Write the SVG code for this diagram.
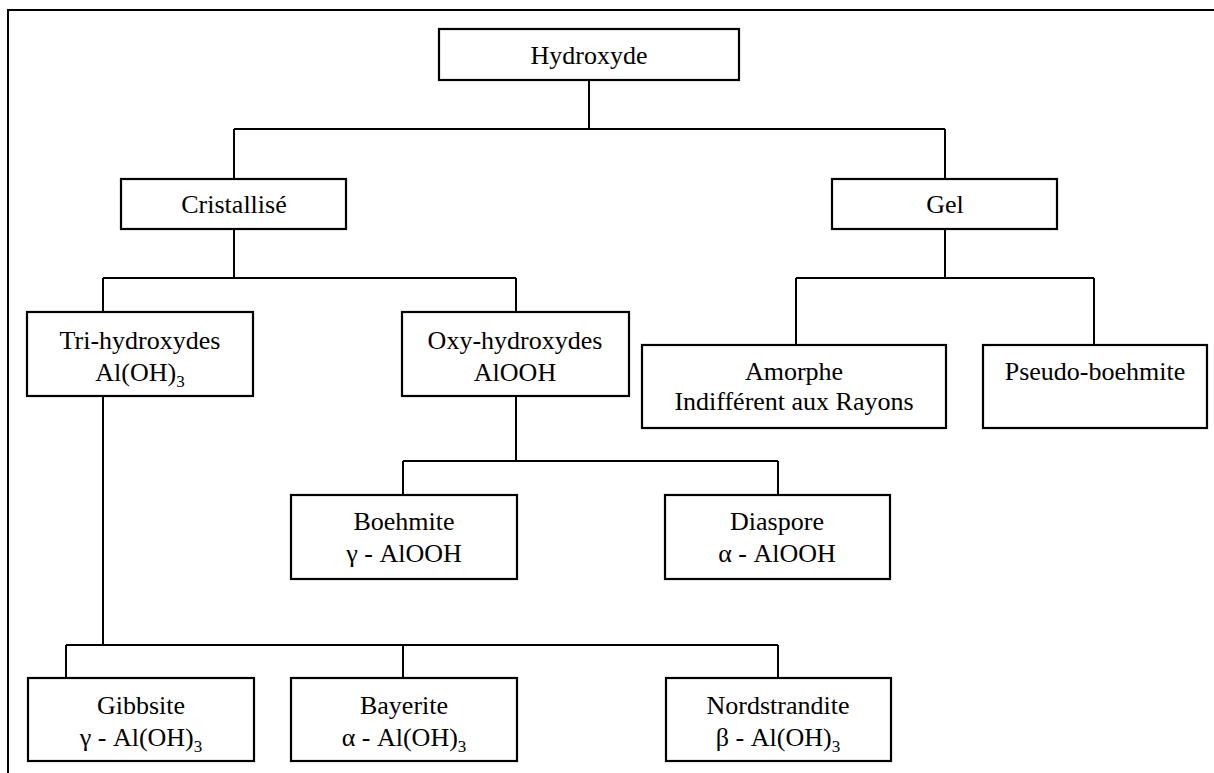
<svg xmlns="http://www.w3.org/2000/svg" width="1214" height="773" viewBox="0 0 1214 773">
<style>
.box{fill:#fff;stroke:#000;stroke-width:2.2}
.ln{fill:none;stroke:#000;stroke-width:2}
.t{font-family:'Liberation Serif','DejaVu Serif',serif;font-size:26px;fill:#000;text-anchor:middle}
.sub{font-size:17px}
</style>
<rect x="0" y="0" width="1214" height="773" fill="#fff"/>
<g id="frame"><path class="ln" d="M8 773 V10 H1214"/></g>
<g id="connectors">
<path class="ln" d="M589 80 V129 M234 129 H945 M234 129 V179 M945 129 V179"/>
<path class="ln" d="M234 229 V278 M103 278 H516 M103 278 V312 M516 278 V312"/>
<path class="ln" d="M945 229 V278 M796 278 H1094 M796 278 V345 M1094 278 V345"/>
<path class="ln" d="M516 396 V461 M403 461 H778 M403 461 V495 M778 461 V495"/>
<path class="ln" d="M103 396 V645 M66 645 H778 M66 645 V678 M403 645 V678 M778 645 V678"/>
</g>
<g class="t" font-family="Liberation Serif, DejaVu Serif, serif">
<g id="hydroxyde"><rect class="box" x="439" y="29" width="300" height="51"/><text x="589" y="64">Hydroxyde</text></g>
<g id="cristallise"><rect class="box" x="121" y="179" width="225" height="50"/><text x="234" y="213">Cristallisé</text></g>
<g id="gel"><rect class="box" x="832" y="179" width="225" height="50"/><text x="945" y="213">Gel</text></g>
<g id="tri"><rect class="box" x="27" y="312" width="226" height="84"/><text x="140" y="349">Tri-hydroxydes</text><text x="140" y="381">Al(OH)<tspan class="sub" dy="6">3</tspan></text></g>
<g id="oxy"><rect class="box" x="402" y="312" width="227" height="84"/><text x="515" y="349">Oxy-hydroxydes</text><text x="515" y="381">AlOOH</text></g>
<g id="amorphe"><rect class="box" x="642" y="345" width="304" height="83"/><text x="794" y="380">Amorphe</text><text x="794" y="410">Indifférent aux Rayons</text></g>
<g id="pseudo"><rect class="box" x="983" y="345" width="224" height="83"/><text x="1095" y="380">Pseudo-boehmite</text></g>
<g id="boehmite"><rect class="box" x="291" y="495" width="226" height="84"/><text x="404" y="530">Boehmite</text><text x="404" y="562">γ - AlOOH</text></g>
<g id="diaspore"><rect class="box" x="665" y="495" width="225" height="84"/><text x="777" y="530">Diaspore</text><text x="777" y="562">α - AlOOH</text></g>
<g id="gibbsite"><rect class="box" x="28" y="678" width="226" height="83"/><text x="141" y="714">Gibbsite</text><text x="141" y="746">γ - Al(OH)<tspan class="sub" dy="6">3</tspan></text></g>
<g id="bayerite"><rect class="box" x="291" y="678" width="226" height="83"/><text x="404" y="714">Bayerite</text><text x="404" y="746">α - Al(OH)<tspan class="sub" dy="6">3</tspan></text></g>
<g id="nordstrandite"><rect class="box" x="666" y="678" width="225" height="83"/><text x="778" y="714">Nordstrandite</text><text x="778" y="746">β - Al(OH)<tspan class="sub" dy="6">3</tspan></text></g>
</g>
</svg>
